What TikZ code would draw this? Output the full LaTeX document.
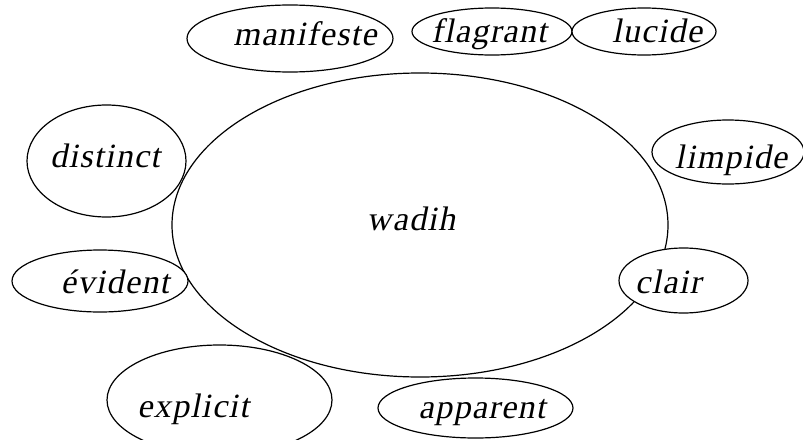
\documentclass[tikz,border=0pt]{standalone}
\usepackage{fontspec}
\setmainfont{Liberation Serif}[FakeSlant=0.2,LetterSpace=4]
\begin{document}
\begin{tikzpicture}[x=1pt,y=-1pt,
  oval/.style={line width=1.2pt,fill=white},
  word/.style={anchor=base,inner sep=0pt,font=\fontsize{34}{34}\selectfont}]
\useasboundingbox (0,0) rectangle (803,439);
\draw[oval] (420,225) ellipse [x radius=248,y radius=152];
\draw[oval] (290,38.5) ellipse [x radius=103,y radius=33.5];
\draw[oval] (492,31.5) ellipse [x radius=80,y radius=23.5];
\draw[oval] (644,31.5) ellipse [x radius=72,y radius=23.5];
\draw[oval] (106.5,161) ellipse [x radius=79.5,y radius=56];
\draw[oval] (100,281) ellipse [x radius=88,y radius=31];
\draw[oval] (728,152) ellipse [x radius=76,y radius=32];
\draw[oval] (683.5,280.5) ellipse [x radius=64.5,y radius=32.5];
\draw[oval] (219.5,400) ellipse [x radius=112.5,y radius=55];
\draw[oval] (475.5,408) ellipse [x radius=97.5,y radius=30];
\node[word] (wadih) at (411,230) {wadih};
\node[word] (manifeste) at (305,45) {manifeste};
\node[word] (flagrant) at (489,42) {flagrant};
\node[word] (lucide) at (657,42) {lucide};
\node[word] (distinct) at (105,167) {distinct};
\node[word] (evident) at (115,293) {évident};
\node[word] (limpide) at (731,168) {limpide};
\node[word] (clair) at (668,293) {clair};
\node[word] (explicit) at (193,417) {explicit};
\node[word] (apparent) at (482,418) {apparent};
\end{tikzpicture}
\end{document}
